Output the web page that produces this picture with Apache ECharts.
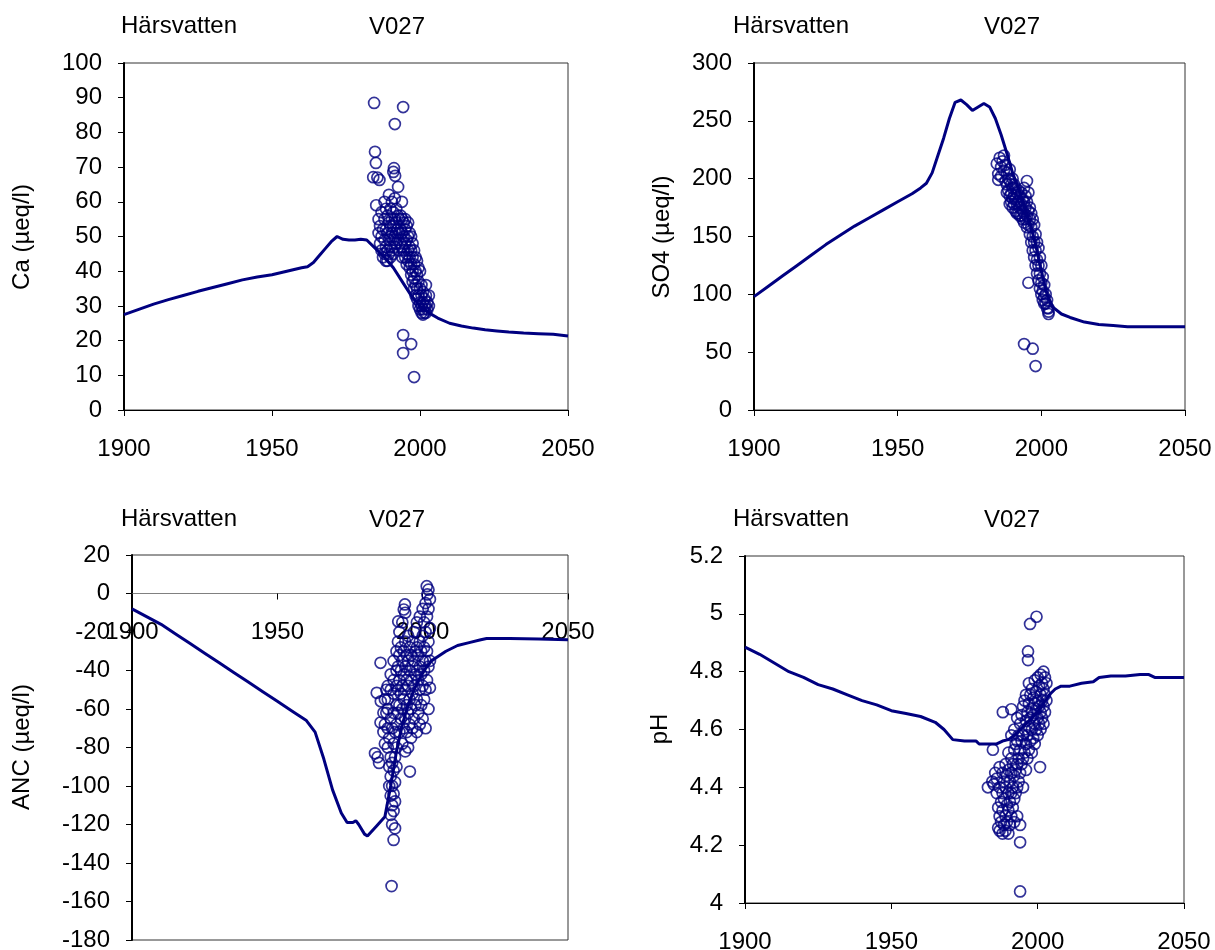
<!DOCTYPE html>
<html>
<head>
<meta charset="utf-8">
<script src="https://cdn.jsdelivr.net/npm/echarts@6/dist/echarts.min.js"></script>
<style>
html,body{margin:0;padding:0;background:#fff;}
#chart{width:1215px;height:950px;}
</style>
</head>
<body>
<div id="chart"></div>
<script>
// ---------- DATA ----------
const siteName = "Härsvatten";
const siteCode = "V027";
const axisNames = ["Ca (µeq/l)", "SO4 (µeq/l)", "ANC (µeq/l)", "pH"];

const caLineYears = [1900,1905,1910,1915,1920,1925,1930,1935,1940,1945,1950,1955,1960,1962,1964,1966,1968,1970,1972,1974,1976,1978,1980,1982,1985,1988,1991,1994,1997,2000,2003,2006,2010,2014,2018,2022,2026,2030,2035,2040,2045,2050];
const caLineVals  = [27.5,29,30.5,31.8,33,34.2,35.3,36.4,37.5,38.3,39,40,41,41.3,42.5,44.5,46.5,48.5,50,49.2,49,49,49.2,49,46.5,44,41,37,33,30,28,26.5,25,24.2,23.6,23.1,22.8,22.5,22.2,22,21.8,21.3];

const caObs = [[1984.5,88.5],[1994.3,87.3],[1991.5,82.4],[1984.8,74.4],[1985.1,71.2],[1984.2,67.1],[1985.6,67],[1986.3,66.3],[1991.2,69.7],[1991.0,68.6],[1991.6,67.5],[1992.6,64.3],[1993.9,60],[1985.2,59],[1994.3,21.6],[1997,19],[1994.3,16.4],[1998,9.5],
[1986,55],[1986,51],[1986.5,48],[1986.5,53],[1987,57],[1987,50],[1987,46],[1987.5,52],[1987.5,44],[1988,60],[1988,55],[1988,49],[1988,45],[1988.5,58],[1988.5,52],[1988.5,47],[1988.5,43],[1989,56],[1989,51],[1989,46],[1989,43],[1989.5,62],[1989.5,54],[1989.5,49],[1989.5,45],[1990,58],[1990,53],[1990,50],[1990,47],[1990,44],[1990.5,60],[1990.5,55],[1990.5,51],[1990.5,46],[1991,57],[1991,53],[1991,49],[1991,45],[1991.5,61],[1991.5,55],[1991.5,50],[1991.5,47],[1992,58],[1992,54],[1992,51],[1992,48],[1992.5,56],[1992.5,52],[1992.5,49],[1993,55],[1993,51],[1993,46],
[1993.5,56],[1993.5,52],[1993.5,48],[1994,55],[1994,51],[1994,47],[1994,44],[1994.5,54],[1994.5,50],[1994.5,46],[1995,55],[1995,52],[1995,48],[1995,44],[1995.5,53],[1995.5,49],[1995.5,45],[1995.5,42],[1996,54],[1996,50],[1996,46],[1996,43],[1996.5,51],[1996.5,47],[1996.5,44],[1996.5,41],[1997,50],[1997,46],[1997,42],[1997,39],[1997.5,48],[1997.5,44],[1997.5,40],[1997.5,37],[1998,46],[1998,42],[1998,38],[1998,35],[1998.5,44],[1998.5,40],[1998.5,36],[1998.5,33],[1999,43],[1999,39],[1999,35],[1999,32],[1999.5,41],[1999.5,37],[1999.5,33],[1999.5,30],[2000,40],[2000,35],[2000,31],[2000,29],[2000.5,36],[2000.5,33],[2000.5,30],[2000.5,28],[2001,34],[2001,31],[2001,29],[2001,27.5],[2001.5,32],[2001.5,30],[2001.5,28],[2002,36],[2002,33],[2002,30],[2002,28],[2002.5,31],[2002.5,29],[2003,33],[2003,30]];

const so4LineYears = [1900,1905,1910,1915,1920,1925,1930,1935,1940,1945,1950,1955,1958,1960,1962,1964,1966,1968,1970,1972,1974,1976,1978,1980,1982,1984,1986,1988,1990,1993,1996,1998,2000,2002,2004,2007,2010,2015,2020,2025,2030,2040,2050];
const so4LineVals  = [98,107,116,125,134,143,151,159,166,173,180,187,192,196,205,220,235,252,266,268,264,259,262,265,262,252,238,222,205,185,162,143,120,100,89,83,80,76,74,73,72,72,72];

const so4Obs = [[1984.5,213],[1985,204],[1985,199],[1985.5,218],[1986,210],[1986,202],[1986.5,215],[1987,220],[1987,207],[1987.5,198],[1987.5,212],[1988,205],[1988,195],[1988,188],[1988.5,200],[1988.5,190],[1989,208],[1989,198],[1989,185],[1989,178],[1989.5,195],[1989.5,187],[1989.5,180],[1990,200],[1990,192],[1990,183],[1990,175],[1990.5,195],[1990.5,185],[1990.5,178],[1991,192],[1991,182],[1991,172],[1991.5,188],[1991.5,178],[1991.5,170],[1992,190],[1992,180],[1992,170],[1992.5,185],[1992.5,175],[1992.5,168],[1993,188],[1993,178],[1993,168],[1993.5,182],[1993.5,172],[1993.5,165],[1994,192],[1994,180],[1994,170],[1994,162],[1994.5,185],[1994.5,175],[1994.5,165],[1995,198],[1995,180],[1995,168],[1995,158],[1995.5,188],[1995.5,172],[1995.5,160],[1995.5,110],[1996,175],[1996,165],[1996,152],[1996.5,170],[1996.5,158],[1996.5,145],[1997,165],[1997,150],[1997,138],[1997.5,160],[1997.5,145],[1997.5,132],[1998,152],[1998,138],[1998,125],[1998.5,145],[1998.5,130],[1998.5,118],[1999,140],[1999,125],[1999,112],[1999.5,132],[1999.5,118],[1999.5,105],[2000,125],[2000,110],[2000,100],[2000.5,115],[2000.5,103],[2000.5,95],[2001,108],[2001,98],[2001,92],[2001.5,100],[2001.5,92],[2002,95],[2002,88],[2002.5,88],[2002.5,85],[2002.5,83],[1994,57],[1997,53],[1998,38]];

const ancLineYears = [1900,1905,1910,1915,1920,1925,1930,1935,1940,1945,1950,1955,1960,1963,1966,1969,1972,1974,1976,1977,1978,1980,1981,1984,1987,1989,1991,1993,1995,1997,1999,2001,2003,2005,2008,2012,2016,2020,2022,2030,2040,2050];
const ancLineVals  = [-8,-12,-16,-21,-26,-31,-36,-41,-46,-51,-56,-61,-66,-72,-86,-102,-114,-119,-119,-118,-120,-125,-126,-121,-116,-100,-82,-68,-58,-50,-44,-39,-35,-33,-30,-27,-25.5,-24,-23.4,-23.4,-23.6,-24];

const ancObs = [[1984.2,-51.6],[1985.5,-36],[1985.6,-56],[1985.5,-67],[1983.6,-83],[1985,-88],[1984.5,-85],[1989.3,-152],[1990,-128],[1990.5,-122],[2001.4,3.8],[2001.6,-0.5],[1993.9,-5.7],[1993.5,-8.3],[1991.6,-14.5],[1995.6,-92.5],[2002.5,-49],
[1988,-60],[1988,-70],[1988,-80],[1988.5,-75],[1988.5,-90],[1988.5,-100],[1989,-65],[1989,-85],[1989,-95],[1989,-105],[1989,-115],[1989.5,-70],[1989.5,-88],[1989.5,-100],[1989.5,-110],[1989.5,-120],[1990,-62],[1990,-78],[1990,-92],[1990,-104],[1990,-113],[1990.5,-72],[1990.5,-85],[1990.5,-98],[1990.5,-108],[1991,-58],[1991,-68],[1991,-80],[1991,-90],
[1986.5,-62],[1986.5,-72],[1987,-55],[1987,-68],[1987,-78],[1987.5,-50],[1987.5,-62],[1988,-48],[1988,-55],[1989,-50],[1989,-42],[1990,-45],[1990,-35],[1990,-52],[1991,-40],[1991,-30],[1991,-48],[1991.5,-62],[1991.5,-50],[1991.5,-38],[1991.5,-25],[1992,-72],[1992,-58],[1992,-45],[1992,-32],[1992,-20],[1992.5,-65],[1992.5,-52],[1992.5,-40],[1992.5,-28],[1993,-78],[1993,-60],[1993,-48],[1993,-35],[1993,-15],[1993.5,-70],[1993.5,-55],[1993.5,-42],[1993.5,-30],[1994,-82],[1994,-65],[1994,-50],[1994,-38],[1994,-25],[1994,-10],[1994.5,-72],[1994.5,-58],[1994.5,-45],[1994.5,-32],[1995,-80],[1995,-62],[1995,-48],[1995,-35],[1995,-22],[1995.5,-68],[1995.5,-55],[1995.5,-40],[1995.5,-28],[1996,-75],[1996,-60],[1996,-45],[1996,-32],[1996.5,-70],[1996.5,-52],[1996.5,-38],[1996.5,-25],[1997,-65],[1997,-48],[1997,-35],[1997,-20],[1997.5,-58],[1997.5,-42],[1997.5,-30],[1998,-72],[1998,-55],[1998,-40],[1998,-28],[1998,-15],[1998.5,-62],[1998.5,-45],[1998.5,-32],[1999,-68],[1999,-50],[1999,-38],[1999,-25],[1999,-12],[1999.5,-58],[1999.5,-42],[1999.5,-30],[2000,-65],[2000,-48],[2000,-35],[2000,-22],[2000,-8],[2000.5,-55],[2000.5,-40],[2000.5,-28],[2000.5,-15],[2001,-70],[2001,-50],[2001,-35],[2001,-20],[2001,-5],[2001.5,-45],[2001.5,-30],[2001.5,-12],[2002,-60],[2002,-38],[2002,-25],[2002,-8],[2002,2],[2002.5,-35],[2002.5,-18],[2002.5,-3]];

const phLineYears = [1900,1905,1910,1915,1920,1925,1930,1935,1940,1945,1950,1955,1960,1965,1968,1971,1975,1979,1980,1984,1986,1988,1990,1992,1994,1996,1998,2000,2002,2004,2006,2008,2011,2015,2019,2021,2025,2030,2035,2038,2040,2045,2050];
const phLineVals  = [4.885,4.86,4.83,4.80,4.78,4.755,4.74,4.72,4.70,4.685,4.665,4.655,4.645,4.625,4.60,4.565,4.56,4.56,4.55,4.55,4.55,4.56,4.565,4.58,4.60,4.62,4.64,4.66,4.69,4.72,4.74,4.75,4.75,4.76,4.765,4.78,4.785,4.785,4.79,4.79,4.78,4.78,4.78];

const phObs = [[1999.6,4.99],[1997.4,4.965],[1996.7,4.87],[1996.7,4.84],[1988.1,4.66],[1991,4.67],[1984.7,4.53],[2000.8,4.47],[1983,4.40],[1994,4.21],[1994,4.04],
[1984.5,4.42],[1985,4.41],[1985.5,4.45],[1986,4.38],[1986,4.43],[1986.5,4.26],[1986.5,4.33],[1987,4.25],[1987,4.30],[1987,4.40],[1987,4.47],[1987.5,4.35],[1987.5,4.28],[1988,4.24],[1988,4.32],[1988,4.38],[1988,4.45],[1988.5,4.27],[1988.5,4.36],[1988.5,4.42],[1989,4.25],[1989,4.30],[1989,4.40],[1989,4.48],[1989.5,4.28],[1989.5,4.34],[1989.5,4.44],[1990,4.24],[1990,4.32],[1990,4.38],[1990,4.46],[1990,4.52],[1990.5,4.27],[1990.5,4.35],[1990.5,4.42],[1991,4.30],[1991,4.38],[1991,4.45],[1991,4.50],[1991,4.58],[1991.5,4.33],[1991.5,4.40],[1991.5,4.48],[1992,4.28],[1992,4.36],[1992,4.44],[1992,4.53],[1992,4.60],[1992.5,4.38],[1992.5,4.46],[1992.5,4.55],[1993,4.30],[1993,4.40],[1993,4.48],[1993,4.56],[1993,4.64],[1993.5,4.42],[1993.5,4.50],[1993.5,4.58],[1994,4.27],[1994,4.45],[1994,4.53],[1994,4.62],[1994.5,4.48],[1994.5,4.56],[1994.5,4.65],[1995,4.40],[1995,4.50],[1995,4.58],[1995,4.68],[1995.5,4.52],[1995.5,4.60],[1995.5,4.70],[1996,4.46],[1996,4.55],[1996,4.63],[1996,4.72],[1996.5,4.50],[1996.5,4.58],[1996.5,4.66],[1997,4.53],[1997,4.61],[1997,4.69],[1997,4.76],[1997.5,4.56],[1997.5,4.64],[1997.5,4.72],[1998,4.52],[1998,4.60],[1998,4.67],[1998,4.74],[1998.5,4.57],[1998.5,4.65],[1998.5,4.71],[1999,4.55],[1999,4.62],[1999,4.69],[1999,4.77],[1999.5,4.60],[1999.5,4.67],[1999.5,4.73],[2000,4.58],[2000,4.64],[2000,4.70],[2000,4.78],[2000.5,4.62],[2000.5,4.68],[2000.5,4.75],[2001,4.60],[2001,4.66],[2001,4.72],[2001,4.79],[2001.5,4.64],[2001.5,4.70],[2001.5,4.76],[2002,4.62],[2002,4.68],[2002,4.74],[2002,4.80],[2002.5,4.66],[2002.5,4.72],[2002.5,4.78],[2003,4.70],[2003,4.76]];

const xTicks = {min:1900, max:2050, interval:50};
const yRanges = [
  {min:0, max:100, interval:10},
  {min:0, max:300, interval:50},
  {min:-180, max:20, interval:20},
  {min:4, max:5.2, interval:0.2}
];

// ---------- CHART ----------
const FONT = "Liberation Sans, Arial, sans-serif";
const NAVY = "#000080";
const grids = [
  {left:124, top:63, width:444, height:347},
  {left:754, top:63, width:431, height:347},
  {left:132, top:555, width:436, height:385},
  {left:745, top:556, width:439, height:347}
];

const lineYears = [caLineYears, so4LineYears, ancLineYears, phLineYears];
const lineVals = [caLineVals, so4LineVals, ancLineVals, phLineVals];
const obs = [caObs, so4Obs, ancObs, phObs];

// x axis sits at y = 0 when 0 lies inside the y range (as in the ANC panel)
function xAxisOffset(i){
  const r = yRanges[i];
  if (r.min < 0 && r.max > 0) return -grids[i].height * (0 - r.min) / (r.max - r.min);
  return 0;
}

const option = {
  animation:false,
  backgroundColor:'#fff',
  grid: grids.map(g => Object.assign({show:true, borderColor:'#333', borderWidth:1, backgroundColor:'rgba(0,0,0,0)', containLabel:false, outerBoundsMode:'none'}, g)),
  xAxis: grids.map((g,i) => ({
    type:'value', gridIndex:i, min:xTicks.min, max:xTicks.max, interval:xTicks.interval,
    position:'bottom', offset: xAxisOffset(i),
    axisLine:{show:true, onZero:false, lineStyle:{color: i===2 ? '#808080' : '#000', width:1}},
    axisTick:{show:true, length:6, lineStyle:{color:'#000'}},
    axisLabel:{show:true, fontSize:24, color:'#000', fontFamily:FONT, margin:27, showMinLabel:true, showMaxLabel:true, formatter: v => String(v)},
    splitLine:{show:false}
  })),
  yAxis: grids.map((g,i) => ({
    type:'value', gridIndex:i, min:yRanges[i].min, max:yRanges[i].max, interval:yRanges[i].interval,
    axisLine:{show:true, onZero:false, lineStyle:{color:'#000', width:2}},
    axisTick:{show:true, length:6, lineStyle:{color:'#000'}},
    axisLabel:{show:true, fontSize:24, color:'#000', fontFamily:FONT, margin:22, showMinLabel:true, showMaxLabel:true},
    splitLine:{show:false}
  })),
  series: [],
  graphic: []
};

for (let i=0;i<4;i++){
  option.series.push({
    type:'line', xAxisIndex:i, yAxisIndex:i, showSymbol:false, symbol:'none',
    data: lineYears[i].map((y,k)=>[y, lineVals[i][k]]),
    lineStyle:{color:NAVY, width:3}, z:2, silent:true
  });
  option.series.push({
    type:'scatter', xAxisIndex:i, yAxisIndex:i, symbol:'circle', symbolSize:11,
    data: obs[i],
    itemStyle:{color:'rgba(0,0,0,0)', borderColor:NAVY, borderWidth:1.7}, z:3, silent:true
  });
}

const titlePos = [
  {hx:121, vx:397, y:27},
  {hx:733, vx:1012, y:27},
  {hx:121, vx:397, y:520},
  {hx:733, vx:1012, y:520}
];
const namePos = [[22,237],[662,237],[22,747],[660,729]];
titlePos.forEach((p,i)=>{
  option.graphic.push({type:'text', left:p.hx, top:p.y-13, style:{text:siteName, font:'24px '+FONT, fill:'#000'}});
  option.graphic.push({type:'text', x:p.vx, y:p.y, style:{text:siteCode, font:'24px '+FONT, fill:'#000', align:'center', verticalAlign:'middle'}});
  option.graphic.push({type:'text', x:namePos[i][0], y:namePos[i][1], rotation:Math.PI/2,
    style:{text:axisNames[i], font:'24px '+FONT, fill:'#000', align:'center', verticalAlign:'middle'}});
});

const chart = echarts.init(document.getElementById('chart'), null, {renderer:'canvas'});
chart.setOption(option);
</script>
</body>
</html>
